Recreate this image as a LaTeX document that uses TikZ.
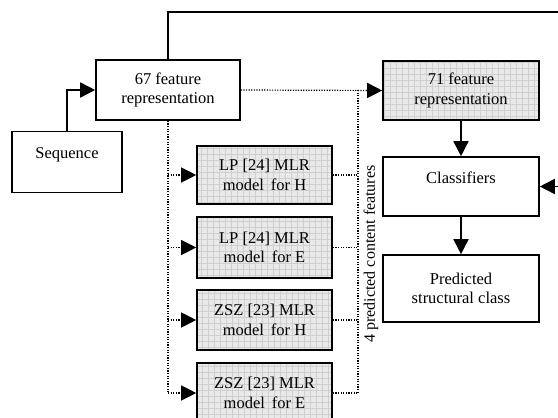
\documentclass[tikz,border=0pt]{standalone}
\usepackage{fontspec}
\setmainfont{Liberation Serif}
\usepackage{tikz}
\usetikzlibrary{arrows.meta, positioning}
\usetikzlibrary{calc}

\tikzset{
  box/.style={draw, line width=1.6pt, align=center, inner sep=2pt,
    font=\fontsize{16.5}{19.5}\selectfont},
  shaded/.style={box, fill=gray!17,
    path picture={\draw[gray!38, line width=0.35pt]
      (path picture bounding box.south west) grid[step=6pt]
      (path picture bounding box.north east);}},
  arr/.style={-{Triangle[length=15pt,width=15pt]}},
  dots/.style={line width=1.2pt, dash pattern=on 1.2pt off 1.4pt},
  wire/.style={line width=1.6pt}
}

\begin{document}
\begin{tikzpicture}[x=1pt,y=-1pt]
\useasboundingbox (0,0) rectangle (558,418);

\node[box, minimum width=110pt, minimum height=61pt] (seq) at (67,162) {Sequence\\[-2pt]};
\node[box, minimum width=144pt, minimum height=60pt] (f67) at (168,90) {67 feature\\representation};
\node[shaded, minimum width=156pt, minimum height=59pt] (f71) at (461,90.5) {71 feature\\representation};
\node[box, minimum width=156pt, minimum height=59pt] (cls) at (461,186.5) {Classifiers\\[-2pt]};
\node[box, minimum width=156pt, minimum height=67pt] (pred) at (461,288.5) {Predicted\\structural class};

\node[shaded, minimum width=135pt, minimum height=58pt] (lph) at (264.5,175) {LP [24] MLR\\model\, for H};
\node[shaded, minimum width=135pt, minimum height=61pt] (lpe) at (264.5,247.5) {LP [24] MLR\\model\, for E};
\node[shaded, minimum width=135pt, minimum height=60pt] (zszh) at (264.5,320) {ZSZ [23] MLR\\model\, for H};
\node[shaded, minimum width=135pt, minimum height=60pt] (zsze) at (264.5,393) {ZSZ [23] MLR\\model\, for E};

\coordinate (top) at (561,12);
\coordinate (lbus) at (168,393);
\coordinate (rbus) at (358,393);

% solid flow
\draw[wire, arr] (seq.north) |- (f67.west);
\draw[wire, arr] (f67.north) |- (top) |- (cls.east);
\draw[wire, arr] (f71.south) -- (cls.north);
\draw[wire, arr] (cls.south) -- (pred.north);

% dotted feature paths
\draw[dots, arr] (f67.east) -- (f71.west);
\draw[dots] (f67.south) -- (lbus);
\draw[dots, arr] (f67.south |- lph.west) -- (lph.west);
\draw[dots, arr] (f67.south |- lpe.west) -- (lpe.west);
\draw[dots, arr] (f67.south |- zszh.west) -- (zszh.west);
\draw[dots, arr] (lbus) -- (zsze.west);

\draw[dots] (rbus |- f67.east) -- (rbus);
\draw[dots] (lph.east) -- (lph.east -| rbus);
\draw[dots] (lpe.east) -- (lpe.east -| rbus);
\draw[dots] (zszh.east) -- (zszh.east -| rbus);
\draw[dots] (zsze.east) -- (rbus);

\node[rotate=90, font=\fontsize{16}{18}\selectfont] (lbl) at (371,254) {4 predicted content features};
\end{tikzpicture}
\end{document}
